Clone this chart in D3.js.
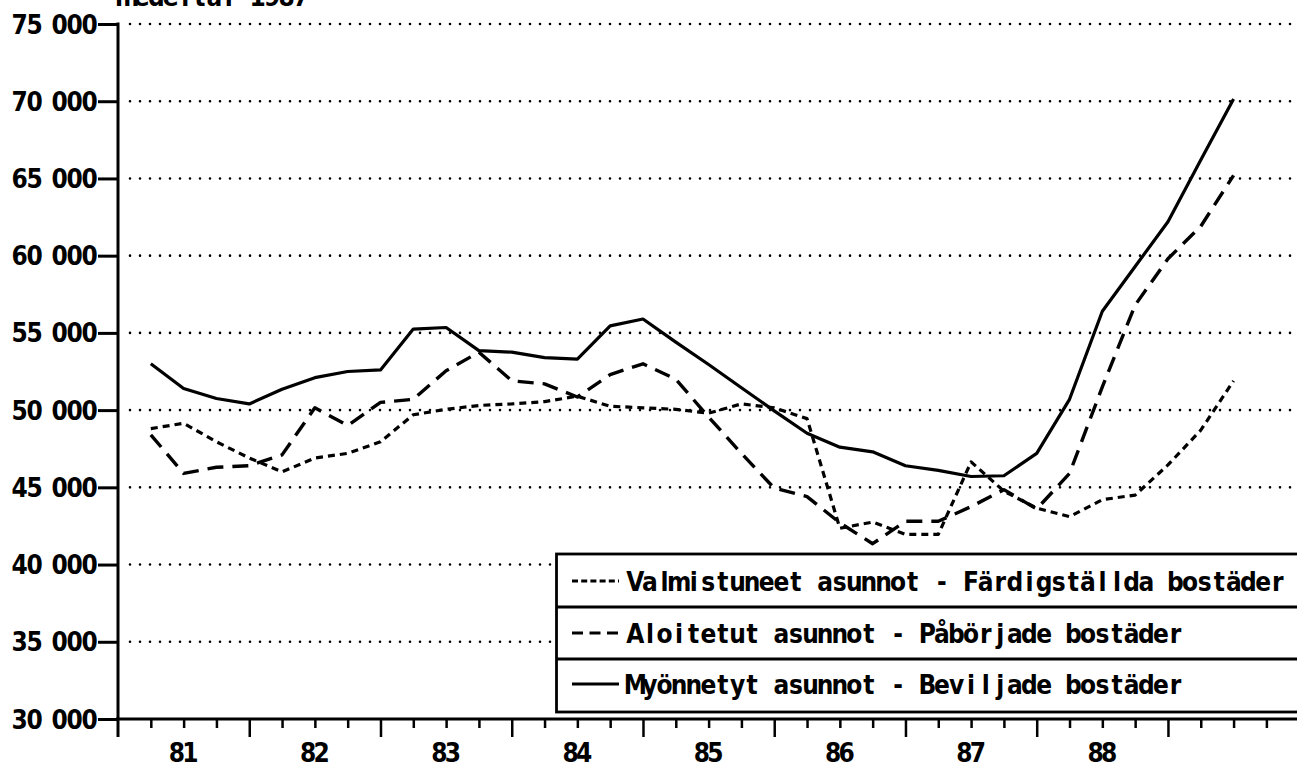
<!DOCTYPE html>
<html><head><meta charset="utf-8">
<script src="https://cdn.jsdelivr.net/npm/d3@7"></script>
<style>
html,body{margin:0;padding:0;background:#fff;}
svg{display:block;}
text{font-family:"Liberation Sans Narrow","DejaVu Sans Condensed","Liberation Sans",sans-serif;font-weight:bold;fill:#000;}
</style></head><body>
<svg id="c" width="1297" height="772"></svg>
<script>
// ---- data ----
const quarters = ["81Q1","81Q2","81Q3","81Q4","82Q1","82Q2","82Q3","82Q4","83Q1","83Q2","83Q3","83Q4",
  "84Q1","84Q2","84Q3","84Q4","85Q1","85Q2","85Q3","85Q4","86Q1","86Q2","86Q3","86Q4",
  "87Q1","87Q2","87Q3","87Q4","88Q1","88Q2","88Q3","88Q4","89Q1","89Q2"];
const valmistuneet = [48800,49150,47950,46900,46000,46900,47200,47950,49700,50050,50300,50400,
  50550,50900,50250,50150,50050,49800,50400,50150,49450,42350,42750,41950,
  41950,46650,44750,43650,43100,44200,44500,46450,48700,51900];
const aloitetut = [48400,45900,46300,46400,47100,50150,49000,50500,50700,52550,53750,51900,
  51700,50850,52300,53000,52000,49550,47200,44950,44400,42700,41350,42800,
  42800,43750,44850,43600,45900,51500,56800,59800,61900,65200];
const myonnetyt = [53000,51400,50750,50400,51350,52100,52500,52600,55250,55350,53850,53750,
  53400,53300,55450,55900,54400,52950,51450,49950,48500,47600,47300,46400,
  46100,45700,45750,47200,50700,56400,59300,62200,66200,70150];
const yTicks = [30000,35000,40000,45000,50000,55000,60000,65000,70000,75000];
const yTickLabels = ["30 000","35 000","40 000","45 000","50 000","55 000","60 000","65 000","70 000","75 000"];
const years = ["81","82","83","84","85","86","87","88"];
const legendLabels = ["Valmistuneet asunnot - Färdigställda bostäder",
  "Aloitetut asunnot - Påbörjade bostäder",
  "Myönnetyt asunnot - Beviljade bostäder"];
const titleText = "medeltal 1987";

// ---- scales ----
const svg = d3.select("#c");
const x = d3.scaleLinear().domain([0, 36]).range([118, 1299.2]);
const y = d3.scaleLinear().domain([30000, 75000]).range([719, 24]);

const FS = 26;
const widthCache = {};
function glyphW(ch) {
  if (widthCache[ch] === undefined) {
    const t = svg.append("text").attr("font-size", FS).text(ch);
    widthCache[ch] = t.node().getComputedTextLength();
    t.remove();
  }
  return widthCache[ch];
}
// monospace-like placement: each glyph centred in a fixed-width cell
function mono(sel, str, x0, pitch, spacePitch) {
  const xs = []; let cx = x0;
  for (const ch of str) {
    const cell = (ch === " " ? (spacePitch ?? pitch) : pitch);
    xs.push((cx + (cell - glyphW(ch)) / 2).toFixed(1));
    cx += cell;
  }
  sel.attr("font-size", FS).attr("x", xs.join(" ")).text(str);
}

// ---- gridlines (dotted) ----
svg.append("g").selectAll("line").data(yTicks.filter(v => v > 30000)).join("line")
  .attr("x1", 130).attr("x2", 1297)
  .attr("y1", d => y(d)).attr("y2", d => y(d))
  .attr("stroke", "#000").attr("stroke-width", 2.6)
  .attr("stroke-linecap", "round").attr("stroke-dasharray", "0,10");

// ---- y axis ----
const yAxis = svg.append("g").attr("transform", "translate(118,0)")
  .call(d3.axisLeft(y).tickValues(yTicks).tickSize(20).tickFormat(""));
yAxis.select(".domain").remove();
yAxis.selectAll(".tick line").attr("stroke", "#000").attr("stroke-width", 3);
svg.append("line").attr("x1", 118).attr("x2", 118).attr("y1", y(75000) - 1.5).attr("y2", 737)
  .attr("stroke", "#000").attr("stroke-width", 3);

yTicks.forEach((v, i) => {
  const lbl = yTickLabels[i];
  let w = 0; for (const ch of lbl) w += (ch === " " ? 10 : 15);
  mono(svg.append("text").attr("y", y(v) + 9.5), lbl, 97 - w, 15, 10);
});

// ---- x axis ----
svg.append("line").attr("x1", 116).attr("x2", 1297).attr("y1", 719).attr("y2", 719)
  .attr("stroke", "#000").attr("stroke-width", 3);
const minorAx = svg.append("g").attr("transform", "translate(0,719)")
  .call(d3.axisBottom(x).tickValues(d3.range(1, 37).filter(d => d % 4 !== 0)).tickSize(9).tickFormat(""));
minorAx.select(".domain").remove();
minorAx.selectAll(".tick line").attr("stroke", "#000").attr("stroke-width", 2.5);
const majorAx = svg.append("g").attr("transform", "translate(0,719)")
  .call(d3.axisBottom(x).tickValues(d3.range(4, 37, 4)).tickSize(18).tickFormat(""));
majorAx.select(".domain").remove();
majorAx.selectAll(".tick line").attr("stroke", "#000").attr("stroke-width", 2.5);

years.forEach((yr, i) => {
  const cx = x(i * 4 + 2);
  mono(svg.append("text").attr("y", 762), yr, cx - 13.5, 13.5);
});

// ---- title (cut off at top, as in the original) ----
mono(svg.append("text").attr("y", 6), titleText, 120, 14.5);

// ---- lines ----
const line = d3.line().x((d, i) => x(i + 1)).y(d => y(d));
const series = [
  {data: valmistuneet, dash: "7,5", w: 3.2},
  {data: aloitetut, dash: "16,9", w: 3.4},
  {data: myonnetyt, dash: null, w: 3.2}
];
series.forEach(s => {
  svg.append("path").attr("d", line(s.data)).attr("fill", "none")
    .attr("stroke", "#000").attr("stroke-width", s.w)
    .attr("stroke-linejoin", "round")
    .attr("stroke-dasharray", s.dash);
});

// ---- legend ----
const lg = svg.append("g");
lg.append("rect").attr("x", 556.5).attr("y", 554).attr("width", 760).attr("height", 158)
  .attr("fill", "#fff").attr("stroke", "#000").attr("stroke-width", 2.8);
[607, 659].forEach(yy => lg.append("line").attr("x1", 556).attr("x2", 1297)
  .attr("y1", yy).attr("y2", yy).attr("stroke", "#000").attr("stroke-width", 2.8));
const rowMid = [581, 633, 684];
const legDash = ["6,3.2", "11,6.5", null];
legendLabels.forEach((lbl, i) => {
  lg.append("line").attr("x1", 572).attr("x2", 619).attr("y1", rowMid[i]).attr("y2", rowMid[i])
    .attr("stroke", "#000").attr("stroke-width", 3).attr("stroke-dasharray", legDash[i]);
  mono(lg.append("text").attr("y", rowMid[i] + 9.5), lbl, 628, 14.6);
});
</script>
</body></html>
